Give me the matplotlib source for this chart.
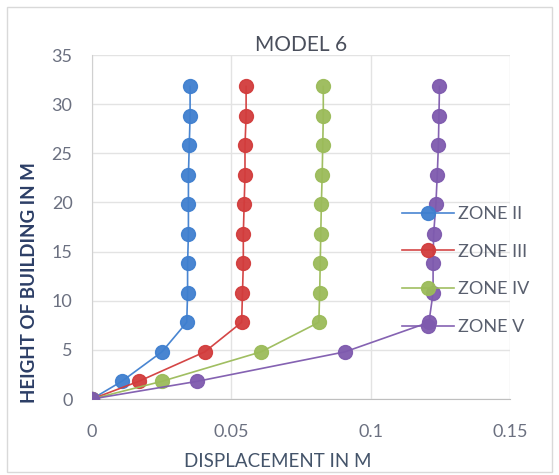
import matplotlib
matplotlib.use("Agg")
import matplotlib.pyplot as plt
from matplotlib.patches import Rectangle

# Storey heights (m) and lateral displacement (m) per seismic zone
heights = [0, 1.8, 4.8, 7.8, 10.8, 13.8, 16.8, 19.8, 22.8, 25.8, 28.8, 31.8]
zone_ii = [0, 0.0107, 0.0251, 0.0340, 0.0343, 0.0343, 0.0346, 0.0346, 0.0346, 0.0349, 0.0352, 0.0352]
zone_iii = [0, 0.0168, 0.0405, 0.0537, 0.0540, 0.0543, 0.0543, 0.0546, 0.0549, 0.0549, 0.0553, 0.0553]
zone_iv = [0, 0.0251, 0.0607, 0.0814, 0.0817, 0.0819, 0.0821, 0.0823, 0.0826, 0.0828, 0.0830, 0.0830]
zone_v = [0, 0.0378, 0.0908, 0.1209, 0.1224, 0.1224, 0.1226, 0.1234, 0.1239, 0.1243, 0.1245, 0.1247]

series_names = ["ZONE II", "ZONE III", "ZONE IV", "ZONE V"]
series_values = [zone_ii, zone_iii, zone_iv, zone_v]
colors = ["#3F7FCF", "#D23C3C", "#9BBB59", "#7E5AAE"]

x_ticks = [0, 0.05, 0.1, 0.15]
x_tick_labels = ["0", "0.05", "0.1", "0.15"]
y_ticks = [0, 5, 10, 15, 20, 25, 30, 35]

plt.rcParams["font.family"] = ["Lato", "DejaVu Sans"]

fig = plt.figure(figsize=(5.59, 4.75), dpi=100)
fig.patch.set_facecolor("white")

# chart-area border
fig.patches.append(Rectangle((7 / 559, 3 / 475), 545 / 559, 465 / 475,
                             transform=fig.transFigure, fill=False,
                             edgecolor="#D9D9D9", linewidth=1.0))

ax = fig.add_axes([92 / 559, 1 - 399 / 475, 418 / 559, 344 / 475])

for name, vals, c in zip(series_names, series_values, colors):
    ax.plot(vals, heights, color=c, linewidth=1.2, marker="o",
            markersize=10, markerfacecolor=c, markeredgecolor=c,
            label=name, zorder=3, alpha=0.95)

ax.set_xlim(0, 0.15)
ax.set_ylim(0, 35)
ax.set_xticks(x_ticks)
ax.set_xticklabels(x_tick_labels)
ax.set_yticks(y_ticks)

ax.grid(True, color="#E3E3E3", linewidth=1.0, zorder=0)
ax.set_axisbelow(True)
for side in ["top", "right"]:
    ax.spines[side].set_visible(False)
ax.spines["left"].set_color("#D0D0D0")
ax.spines["bottom"].set_color("#BFBFBF")
ax.tick_params(length=0, colors="#6B7080", labelsize=13)
ax.tick_params(axis="x", pad=18)
ax.tick_params(axis="y", pad=14)

ax.set_title("MODEL 6", fontsize=15, color="#4A4F5C", pad=3)
ax.set_xlabel("DISPLACEMENT IN M", fontsize=13.5, color="#44546A")
ax.xaxis.set_label_coords((278 - 92) / 418, -(453 - 399) / 344)
ax.set_ylabel("HEIGHT OF BUILDING IN M", fontsize=13.5, color="#2C3E66",
              fontweight="bold")
ax.yaxis.set_label_coords(-(92 - 38) / 418, (399 - 283) / 344)

leg = ax.legend(loc="upper left", bbox_to_anchor=((402 - 92) / 418, (399 - 206) / 344),
                frameon=False, fontsize=13, handlelength=2.9, labelspacing=1.2,
                handletextpad=0.2, borderaxespad=0, borderpad=0)
for t in leg.get_texts():
    t.set_color("#595F6E")

fig.savefig("out.png", dpi=100, facecolor="white")
